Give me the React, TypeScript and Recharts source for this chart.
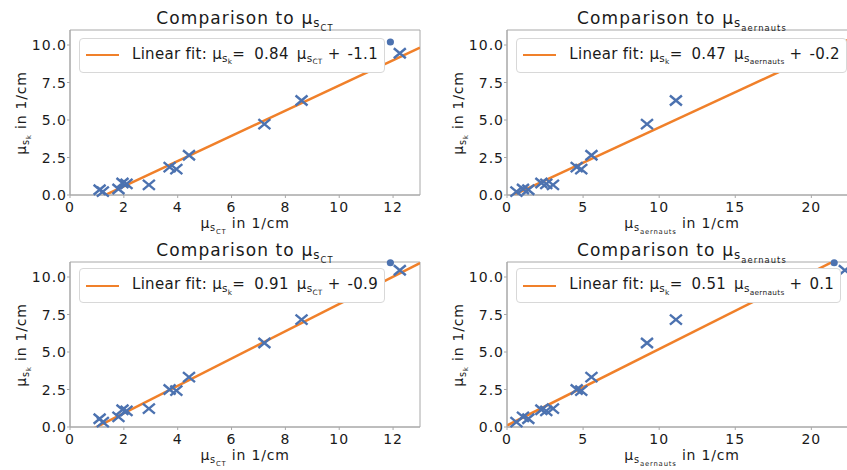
import React from "react";
import { Legend, ReferenceArea, ReferenceLine, Scatter, ScatterChart, XAxis, YAxis } from "recharts";

const FONT = "DejaVu Sans, sans-serif";
const BLUE = "#4c72b0";
const ORANGE = "#f0802a";
const SPINE = "#a8a8a8";
const TEXT = "#1a1a1a";

// reference μ_s values (x axes), one entry per sample
const muSCT = [1.1, 1.22, 1.8, 1.95, 2.1, 2.93, 3.7, 3.95, 4.42, 7.22, 8.6, 12.25];
const muSAernauts = [1.4, 0.62, 1.05, 2.26, 2.58, 3.02, 4.58, 4.88, 5.55, 9.2, 11.1, 22.2];
// μ_s_k, upper row and lower row
const muSkTop = [0.35, 0.22, 0.4, 0.8, 0.74, 0.68, 1.86, 1.72, 2.65, 4.72, 6.3, 9.45];
const muSkBottom = [0.55, 0.32, 0.68, 1.15, 1.08, 1.22, 2.5, 2.42, 3.32, 5.6, 7.16, 10.45];

// the single point drawn as a dot
const dotCT = 11.9;
const dotAernauts = 21.5;
const dotSkTop = 10.2;
const dotSkBottom = 10.95;

// linear fits: top-left, top-right, bottom-left, bottom-right
const fitSlopes = [0.84, 0.47, 0.91, 0.51];
const fitIntercepts = [-1.1, -0.2, -0.9, 0.1];

const ctTicks = [0, 2, 4, 6, 8, 10, 12];
const aernautsTicks = [0, 5, 10, 15, 20];
const skTicks = [0, 2.5, 5, 7.5, 10];
const ctMax = 13;
const aernautsMax = 23;
const skMax = 11;

const PLOT_W = 350;
const PLOT_H = 165;
const M_LEFT = 70;
const M_TOP = 30;
const M_RIGHT = 10;
const M_BOTTOM = 45;

// μ with a nested subscript, as svg tspans, then the rest of the text
function mathSpans(size: number, sub: string, subsub: string, rest = "") {
  const s1 = size * 0.7;
  const s2 = s1 * 0.7;
  const d1 = size * 0.22;
  const d2 = s1 * 0.3;
  return [
    <tspan key="mu">μ</tspan>,
    <tspan key="s" fontSize={s1} dy={d1}>{sub}</tspan>,
    <tspan key="ss" fontSize={s2} dy={d2}>{subsub}</tspan>,
    <tspan key="r" fontSize={size} dy={-(d1 + d2)}>{rest}</tspan>,
  ];
}

// same thing in html
function MuHtml({ sub, subsub }: { sub: string; subsub: string }) {
  return (
    <span>
      μ
      <span style={{ fontSize: "70%", position: "relative", top: "0.3em" }}>
        {sub}
        <span style={{ fontSize: "70%", position: "relative", top: "0.3em" }}>{subsub}</span>
      </span>
    </span>
  );
}

const Cross = (props: any) => {
  const { cx, cy } = props;
  return (
    <path
      d={`M${cx - 6},${cy - 5}L${cx + 6},${cy + 5}M${cx - 6},${cy + 5}L${cx + 6},${cy - 5}`}
      stroke={BLUE}
      strokeWidth={2.4}
      fill="none"
    />
  );
};

const Dot = (props: any) => <circle cx={props.cx} cy={props.cy} r={3.6} fill={BLUE} />;

const renderXTick = (props: any) => (
  <text x={props.x} y={props.y} dy={12} textAnchor="middle" fontFamily={FONT} fontSize={14}
    letterSpacing={1} fill={TEXT}>
    {props.payload.value}
  </text>
);

const renderYTick = (props: any) => (
  <text x={props.x} y={props.y} dy={5} textAnchor="end" fontFamily={FONT} fontSize={14}
    letterSpacing={1} fill={TEXT}>
    {Number(props.payload.value).toFixed(1)}
  </text>
);

function FitLegend({ slope, intercept, refName }: { slope: number; intercept: number; refName: string }) {
  return (
    <div
      style={{
        display: "flex",
        alignItems: "center",
        background: "#ffffff",
        border: "1px solid #d8d8d8",
        borderRadius: 4,
        padding: "6px 6px 6px 6px",
        fontFamily: FONT,
        fontSize: 15,
        letterSpacing: 0.3,
        lineHeight: "18px",
        color: TEXT,
        whiteSpace: "nowrap",
      }}
    >
      <span style={{ display: "inline-block", width: 33, height: 2.5, background: ORANGE, marginRight: 13 }} />
      <span>
        Linear fit: <MuHtml sub="s" subsub="k" />=
        <span style={{ marginLeft: 9 }}>{slope.toFixed(2)}</span>
        <span style={{ marginLeft: 8 }}>
          <MuHtml sub="s" subsub={refName} />
        </span>
        <span style={{ marginLeft: 5 }}>+</span>
        <span style={{ marginLeft: 7 }}>{intercept.toFixed(1)}</span>
      </span>
    </div>
  );
}

type PanelProps = {
  left: number;
  top: number;
  xs: number[];
  ys: number[];
  dotX: number;
  dotY: number;
  slope: number;
  intercept: number;
  xMax: number;
  xTicks: number[];
  refName: string;
  legendTop: number;
};

function Panel(p: PanelProps) {
  const points = p.xs.map((x, i) => ({ x, y: p.ys[i] }));
  const dot = [{ x: p.dotX, y: p.dotY }];
  const width = M_LEFT + PLOT_W + M_RIGHT;
  const height = M_TOP + PLOT_H + M_BOTTOM;

  const title = (lp: any) => {
    const { x, y, width: w } = lp.viewBox;
    return (
      <text x={x + w / 2} y={y - 6.3} textAnchor="middle" fontFamily={FONT} fontSize={17}
        letterSpacing={1.1} fill={TEXT}>
        <tspan>Comparison to{"\u00a0"}</tspan>
        {mathSpans(17, "s", p.refName)}
      </text>
    );
  };
  const xLabel = (lp: any) => {
    const { x, y, width: w } = lp.viewBox;
    return (
      <text x={x + w / 2} y={y + 33} textAnchor="middle" fontFamily={FONT} fontSize={14}
        letterSpacing={0.8} fill={TEXT}>
        {mathSpans(14, "s", p.refName, "\u00a0in 1/cm")}
      </text>
    );
  };

  // rotated y label: its baseline sits 43.5px left of the axes box, centred on the box
  const yLabelCx = M_LEFT - 43.5 - 4.8;
  const yLabelCy = M_TOP + PLOT_H / 2;

  return (
    <div style={{ position: "absolute", left: p.left - M_LEFT, top: p.top - M_TOP, width, height }}>
      <ScatterChart width={width} height={height} margin={{ top: M_TOP, right: M_RIGHT, bottom: 0, left: 10 }}>
        <XAxis type="number" dataKey="x" domain={[0, p.xMax]} ticks={p.xTicks} interval={0}
          height={M_BOTTOM} stroke={SPINE} tickSize={3} tickMargin={2} tick={renderXTick} label={xLabel} />
        <YAxis type="number" dataKey="y" domain={[0, skMax]} ticks={skTicks} interval={0}
          width={60} stroke={SPINE} tickSize={3} tickMargin={0} tick={renderYTick} />
        <Scatter data={points} shape={Cross} isAnimationActive={false} />
        <Scatter data={dot} shape={Dot} isAnimationActive={false} />
        <ReferenceLine
          segment={[
            { x: 0, y: p.intercept },
            { x: p.xMax, y: p.slope * p.xMax + p.intercept },
          ]}
          ifOverflow="hidden"
          stroke={ORANGE}
          strokeWidth={2.5}
        />
        {/* axes box, with the title on top of it */}
        <ReferenceArea x1={0} x2={p.xMax} y1={0} y2={skMax} fill="none" fillOpacity={0}
          stroke={SPINE} strokeWidth={1} label={title} />
        <Legend
          verticalAlign="middle"
          align="center"
          layout="horizontal"
          wrapperStyle={{ left: M_LEFT + 9, top: p.legendTop, width: "auto", height: "auto", zIndex: 10 }}
          content={() => <FitLegend slope={p.slope} intercept={p.intercept} refName={p.refName} />}
        />
      </ScatterChart>
      <div
        style={{
          position: "absolute",
          left: yLabelCx,
          top: yLabelCy,
          transform: "translate(-50%, -50%) rotate(-90deg)",
          fontFamily: FONT,
          fontSize: 14,
          lineHeight: "16px",
          letterSpacing: 0.8,
          color: TEXT,
          whiteSpace: "nowrap",
          pointerEvents: "none",
        }}
      >
        <MuHtml sub="s" subsub="k" /> in 1/cm
      </div>
    </div>
  );
}

export default function App() {
  return (
    <div
      style={{
        position: "fixed",
        left: 0,
        top: 0,
        width: 847,
        height: 470,
        overflow: "hidden",
        background: "#fff",
      }}
    >
      <Panel left={70} top={30} xs={muSCT} ys={muSkTop} dotX={dotCT} dotY={dotSkTop}
        slope={fitSlopes[0]} intercept={fitIntercepts[0]} xMax={ctMax} xTicks={ctTicks}
        refName="CT" legendTop={37.7} />
      <Panel left={507.3} top={30} xs={muSAernauts} ys={muSkTop} dotX={dotAernauts} dotY={dotSkTop}
        slope={fitSlopes[1]} intercept={fitIntercepts[1]} xMax={aernautsMax} xTicks={aernautsTicks}
        refName="aernauts" legendTop={37.7} />
      <Panel left={70} top={262.3} xs={muSCT} ys={muSkBottom} dotX={dotCT} dotY={dotSkBottom}
        slope={fitSlopes[2]} intercept={fitIntercepts[2]} xMax={ctMax} xTicks={ctTicks}
        refName="CT" legendTop={36} />
      <Panel left={507.3} top={262.3} xs={muSAernauts} ys={muSkBottom} dotX={dotAernauts} dotY={dotSkBottom}
        slope={fitSlopes[3]} intercept={fitIntercepts[3]} xMax={aernautsMax} xTicks={aernautsTicks}
        refName="aernauts" legendTop={36} />
    </div>
  );
}
